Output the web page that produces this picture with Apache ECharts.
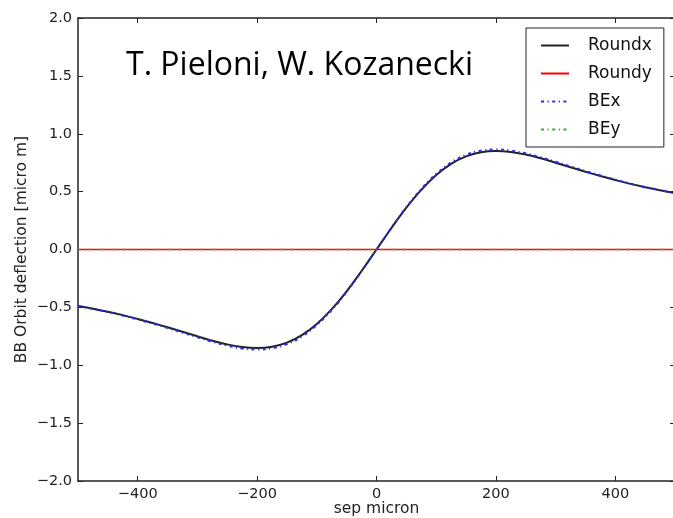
<!DOCTYPE html>
<html>
<head>
<meta charset="utf-8">
<script src="https://cdn.jsdelivr.net/npm/echarts@6/dist/echarts.min.js"></script>
<style>
  html, body { margin: 0; padding: 0; background: #fff; }
  #chart { width: 673px; height: 518px; }
</style>
</head>
<body>
<div id="chart"></div>
<script>
// Beam separation in microns
const sep = [
  -500, -475, -450, -425, -400, -375, -350, -325, -300, -275,
  -250, -225, -200, -175, -150, -125, -100, -75, -50, -25,
  0, 25, 50, 75, 100, 125, 150, 175, 200, 225,
  250, 275, 300, 325, 350, 375, 400, 425, 450, 475, 500
];

// Orbit deflection [micro m], round-beam model
const roundx = [
  -0.487, -0.512, -0.538, -0.567, -0.600, -0.635, -0.672, -0.711, -0.750, -0.788,
  -0.820, -0.843, -0.851, -0.840, -0.805, -0.740, -0.643, -0.515, -0.361, -0.186,
  0.000, 0.186, 0.361, 0.515, 0.643, 0.740, 0.805, 0.840, 0.851, 0.843,
  0.820, 0.788, 0.750, 0.711, 0.672, 0.635, 0.600, 0.567, 0.538, 0.512, 0.487
];
const roundy = [
  0, 0, 0, 0, 0, 0, 0, 0, 0, 0,
  0, 0, 0, 0, 0, 0, 0, 0, 0, 0,
  0, 0, 0, 0, 0, 0, 0, 0, 0, 0,
  0, 0, 0, 0, 0, 0, 0, 0, 0, 0, 0
];

// Orbit deflection [micro m], beam-beam element
const bex = [
  -0.488, -0.513, -0.540, -0.570, -0.604, -0.640, -0.678, -0.718, -0.758, -0.797,
  -0.831, -0.855, -0.864, -0.854, -0.818, -0.752, -0.653, -0.523, -0.366, -0.188,
  0.000, 0.188, 0.366, 0.523, 0.653, 0.752, 0.818, 0.854, 0.864, 0.855,
  0.831, 0.797, 0.758, 0.718, 0.678, 0.640, 0.604, 0.570, 0.540, 0.513, 0.488
];
const bey = [
  0, 0, 0, 0, 0, 0, 0, 0, 0, 0,
  0, 0, 0, 0, 0, 0, 0, 0, 0, 0,
  0, 0, 0, 0, 0, 0, 0, 0, 0, 0,
  0, 0, 0, 0, 0, 0, 0, 0, 0, 0, 0
];

const seriesNames = ['Roundx', 'Roundy', 'BEx', 'BEy'];
const xTicks = [-400, -200, 0, 200, 400];
const yTicks = [-2.0, -1.5, -1.0, -0.5, 0.0, 0.5, 1.0, 1.5, 2.0];
const titleText = 'T. Pieloni, W. Kozanecki';
const xLabel = 'sep micron';
const yLabel = 'BB Orbit deflection [micro m]';

const pairs = (ys) => sep.map((x, i) => [x, ys[i]]);
const minus = (s) => String(s).replace('-', '\u2212');

const AX = '#222';
const tickFont = { fontFamily: 'DejaVu Sans', fontSize: 14.5, color: '#222' };
const nameFont = { fontFamily: 'DejaVu Sans', fontSize: 15.5, color: '#222' };
const dashDot = [3, 3.5, 1.2, 3.5];

const baseX = {
  type: 'value', min: -500, max: 500, interval: 100,
  axisLine: { show: true, onZero: false, lineStyle: { color: AX, width: 1.5 } },
  axisTick: { show: true, inside: true, length: 5, lineStyle: { color: AX, width: 1 },
              customValues: xTicks },
  splitLine: { show: false }
};
const baseY = {
  type: 'value', min: -2, max: 2, interval: 0.5,
  axisLine: { show: true, onZero: false, lineStyle: { color: AX, width: 1.5 } },
  axisTick: { show: true, inside: true, length: 5, lineStyle: { color: AX, width: 1 },
              customValues: yTicks },
  splitLine: { show: false }
};

const chart = echarts.init(document.getElementById('chart'), null, { renderer: 'canvas' });

chart.setOption({
  backgroundColor: '#fff',
  animation: false,
  title: {
    text: titleText,
    left: 126, top: 50, padding: 0,
    textStyle: { fontFamily: 'Open Sans', fontSize: 32, fontWeight: 'normal', color: '#000' }
  },
  grid: { left: 78, right: -2, top: 18, bottom: 37, outerBoundsMode: 'none', containLabel: false },
  legend: {
    data: seriesNames,
    orient: 'vertical',
    left: 526, top: 28,
    padding: [9, 12, 9, 14],
    itemWidth: 28, itemHeight: 14, itemGap: 11,
    itemStyle: { opacity: 0 },
    backgroundColor: '#fff',
    borderColor: '#222', borderWidth: 1, borderRadius: 0,
    textStyle: { fontFamily: 'DejaVu Sans', fontSize: 17, color: '#111', padding: [0, 0, 0, 14] }
  },
  xAxis: [
    Object.assign({}, baseX, {
      position: 'bottom',
      axisLabel: Object.assign({}, tickFont, {
        margin: 6, customValues: xTicks, formatter: (v) => minus(v)
      }),
      name: xLabel, nameLocation: 'middle', nameGap: 20, nameMoveOverlap: false,
      nameTextStyle: nameFont
    }),
    Object.assign({}, baseX, { position: 'top', axisLabel: { show: false } })
  ],
  yAxis: [
    Object.assign({}, baseY, {
      position: 'left',
      axisLabel: Object.assign({}, tickFont, {
        margin: 6, customValues: yTicks, formatter: (v) => minus(v.toFixed(1))
      }),
      name: yLabel, nameLocation: 'middle', nameGap: 48, nameRotate: 90, nameMoveOverlap: false,
      nameTextStyle: nameFont
    }),
    Object.assign({}, baseY, { position: 'right', axisLabel: { show: false } })
  ],
  series: [
    {
      name: 'Roundx', type: 'line', data: pairs(roundx), smooth: 0.4,
      symbol: 'none', color: '#222',
      lineStyle: { color: '#222', width: 2 }, z: 2
    },
    {
      name: 'Roundy', type: 'line', data: pairs(roundy),
      symbol: 'none', color: '#ff0000',
      lineStyle: { color: '#ff0000', width: 1.5 }, z: 3
    },
    {
      name: 'BEx', type: 'line', data: pairs(bex), smooth: 0.4,
      symbol: 'none', color: '#2a2aff',
      lineStyle: { color: '#2a2aff', width: 2, type: dashDot }, z: 4
    },
    {
      name: 'BEy', type: 'line', data: pairs(bey),
      symbol: 'none', color: '#3aa83a',
      lineStyle: { color: '#3aa83a', width: 1.5, type: dashDot }, z: 5
    }
  ]
});
</script>
</body>
</html>
